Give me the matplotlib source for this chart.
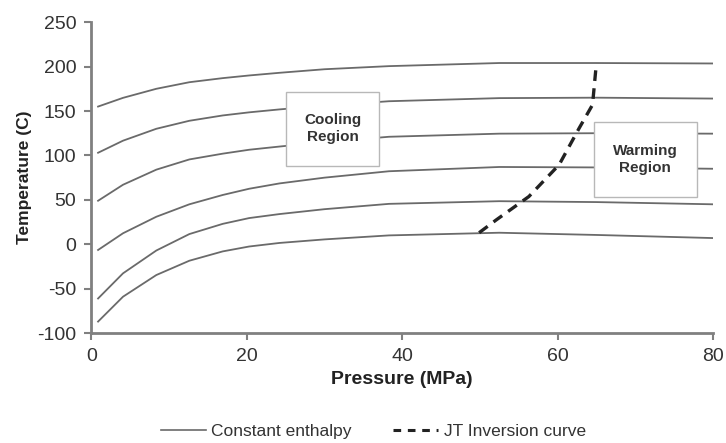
import matplotlib as mpl
mpl.use('Agg')
import matplotlib.pyplot as plt
from matplotlib.patches import Rectangle
from matplotlib.lines import Line2D

plt.rcParams['font.family'] = ['Liberation Sans', 'DejaVu Sans']
plt.rcParams['axes.unicode_minus'] = False

# pressure samples (MPa)
pressure = [0.85, 4.06, 8.35, 12.6, 16.9, 20.3, 24.2, 30, 38.3, 52.5, 65, 80]
enthalpy_curves = [
    [155, 164.8, 175, 182.4, 187, 190, 193, 197, 200.5, 204, 204, 203.5],
    [103, 116.6, 130, 139, 145, 148.5, 151.8, 156, 161, 164.5, 165, 164],
    [49, 67, 84, 95.5, 102, 106.4, 110, 115, 121, 124.5, 125, 124.5],
    [-6.4, 12.4, 31, 45, 55.5, 62.5, 68.5, 75, 82.2, 87, 86.5, 85],
    [-61, -32.7, -7, 11.5, 23, 29.5, 34, 39.5, 45.5, 48.5, 47.5, 45],
    [-87, -59, -34.6, -18.5, -8, -2.5, 1.5, 5.5, 10, 13, 10.5, 7],
]

# JT inversion curve
jt_pressure = [49.9, 52.1, 56.3, 60.2, 62.8, 64.5, 65.0]
jt_temp = [13, 27.4, 53.7, 89.5, 131, 157, 204]

gray = '#6a6a6a'
axis_gray = '#808080'

fig = plt.figure(figsize=(7.26, 4.43), dpi=100)
ax = fig.add_axes([0.126, 0.248, 0.856, 0.702])

for temps in enthalpy_curves:
    ax.plot(pressure, temps, color=gray, lw=1.3, zorder=1,
            solid_joinstyle='round')

ax.plot(jt_pressure, jt_temp, color='#222222', lw=2.4,
        dashes=(3.2, 2.2), zorder=2)

# region boxes
ax.add_patch(Rectangle((25.1, 88.4), 11.9, 83.4, facecolor='white',
                       edgecolor='#b8b8b8', lw=1, zorder=3))
ax.text(31.05, 130, "Cooling\nRegion", ha='center', va='center',
        fontsize=11, fontweight='bold', color='#333333', zorder=4,
        linespacing=1.25)
ax.add_patch(Rectangle((64.7, 53.4), 13.2, 84.6, facecolor='white',
                       edgecolor='#b8b8b8', lw=1, zorder=3))
ax.text(71.3, 95.7, "Warming\nRegion", ha='center', va='center',
        fontsize=11, fontweight='bold', color='#333333', zorder=4,
        linespacing=1.25)

ax.set_xlim(0, 80)
ax.set_ylim(-100, 250)
ax.set_xticks([0, 20, 40, 60, 80])
ax.set_yticks(range(-100, 251, 50))

for s in ['top', 'right']:
    ax.spines[s].set_visible(False)
for s in ['left', 'bottom']:
    ax.spines[s].set_color(axis_gray)
    ax.spines[s].set_linewidth(2)

ax.tick_params(direction='out', length=5, width=1.5, color=axis_gray,
               labelsize=14, labelcolor='#333333', pad=6)

ax.set_xlabel("Pressure (MPa)", fontsize=14, fontweight='bold',
              color='#222222', labelpad=4)
ax.set_ylabel("Temperature (C)", fontsize=12.5, fontweight='bold',
              color='#222222')
ax.yaxis.set_label_coords(-0.096, 0.5)

handles = [Line2D([], [], color=gray, lw=1.2),
           Line2D([], [], color='#222222', lw=2.2, dashes=(2.5, 2.2))]
fig.legend(handles, ["Constant enthalpy", "JT Inversion curve"],
           loc='center', bbox_to_anchor=(0.514, 0.027), ncol=2,
           frameon=False, fontsize=12.5, handlelength=2.6,
           handletextpad=0.3, columnspacing=2.4, labelcolor='#333333')

fig.savefig('out.png', dpi=100)
